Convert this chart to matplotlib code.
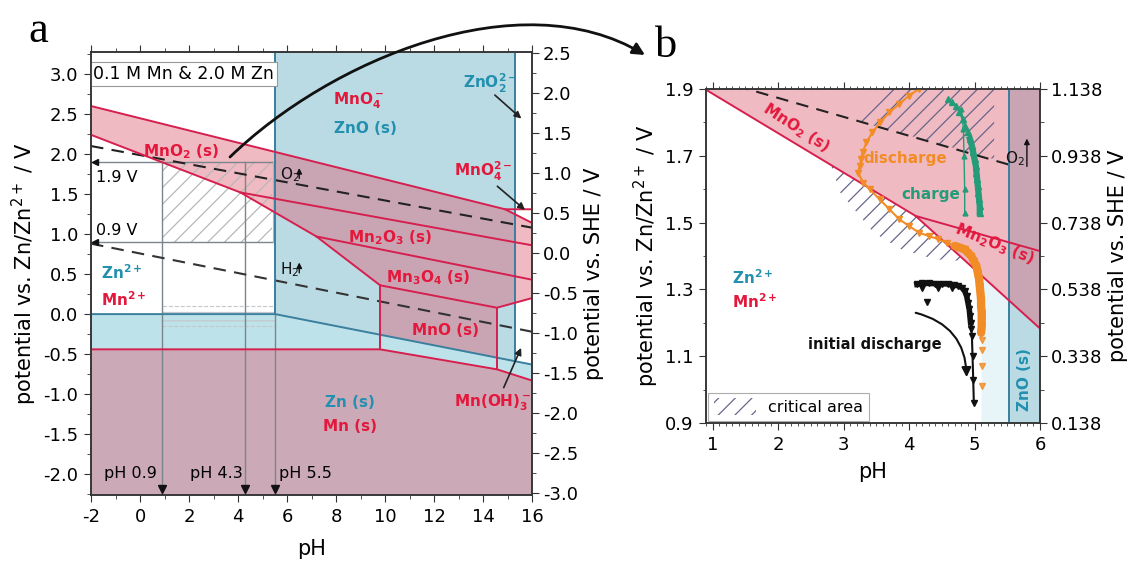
import numpy as np
import matplotlib
matplotlib.use("Agg")
import matplotlib.pyplot as plt
from matplotlib.patches import Polygon, Rectangle, FancyArrowPatch, Patch
from matplotlib.path import Path
from matplotlib.ticker import MultipleLocator, FixedLocator, FormatStrFormatter

plt.rcParams['font.family'] = ['DejaVu Sans']
plt.rcParams['mathtext.default'] = 'regular'
plt.rcParams['axes.unicode_minus'] = False
plt.rcParams['hatch.linewidth'] = 0.9

# ------------------------------------------------------------------ data
SHE_OFFSET = 0.762          # E(SHE) = E(Zn/Zn2+) - offset
PH_ZNO = 5.52               # Zn2+ / ZnO(s)
PH_ZNO2 = 15.3              # ZnO(s) / ZnO2^2-

o2_ph = [-2, 16];            o2_e = [2.10, 1.08]
h2_ph = [-2, 16];            h2_e = [0.88, -0.22]
zn_ph = [-2, 5.52, 16];      zn_e = [0.0, 0.0, -0.63]
mn_ph = [-2, 9.8, 14.57, 16]; mn_e = [-0.44, -0.44, -0.69, -0.83]
mno4_ph = [-2, 14.9, 16];    mno4_e = [2.60, 1.31, 1.31]
mno42_ph = [14.9, 16];       mno42_e = [1.31, 1.14]
mn2_ph = [-2, 4.1, 7.2, 9.8]; mn2_e = [2.24, 1.52, 0.97, 0.36]
mno2_mn2o3_ph = [4.1, 16];   mno2_mn2o3_e = [1.52, 0.86]
mn2o3_mn3o4_ph = [7.2, 16];  mn2o3_mn3o4_e = [0.97, 0.43]
mno_top_ph = [9.8, 14.57, 16]; mno_top_e = [0.36, 0.08, 0.20]

# critical areas (panel b)
hatch_up_ph = [3.55, 5.3, 5.3, 3.1]
hatch_up_e = [1.90, 1.90, 1.69, 1.81]
hatch_lo_ph = [2.8, 4.1, 4.85, 4.85, 4.4, 3.88, 3.46, 2.95]
hatch_lo_e = [1.676, 1.52, 1.387, 1.385, 1.39, 1.42, 1.47, 1.59]

# measured operando data (panel b)
init_ph = [4.12, 4.2, 4.3, 4.4, 4.5, 4.6, 4.68, 4.75, 4.81, 4.85, 4.88, 4.9,
           4.92, 4.93, 4.94, 4.95, 4.96, 4.97, 4.98, 4.99]
init_e = [1.315, 1.318, 1.318, 1.317, 1.317, 1.316, 1.314, 1.311, 1.305, 1.295,
          1.28, 1.26, 1.24, 1.22, 1.20, 1.18, 1.16, 1.10, 1.03, 0.96]
init_extra_ph = [4.28, 4.2, 4.45, 4.65]
init_extra_e = [1.262, 1.305, 1.305, 1.303]

dis_ph = [4.15, 4.0, 3.85, 3.7, 3.56, 3.44, 3.35, 3.29, 3.27, 3.25, 3.22, 3.3,
          3.4, 3.55, 3.7, 3.85, 4.0, 4.15, 4.3, 4.45, 4.58, 4.7, 4.78, 4.85,
          4.9, 4.95, 4.99, 5.03, 5.05, 5.07, 5.08, 5.09, 5.10, 5.10, 5.11, 5.11,
          5.11, 5.10]
dis_e = [1.90, 1.88, 1.855, 1.83, 1.80, 1.77, 1.74, 1.71, 1.69, 1.67, 1.65, 1.62,
         1.60, 1.57, 1.54, 1.51, 1.49, 1.47, 1.46, 1.45, 1.44, 1.43, 1.425, 1.42,
         1.41, 1.40, 1.385, 1.37, 1.35, 1.33, 1.31, 1.29, 1.27, 1.25, 1.23, 1.21,
         1.19, 1.17]
dis_tail_ph = [5.12, 5.12, 5.12, 5.12]
dis_tail_e = [1.15, 1.12, 1.07, 1.01]

chg_ph = [5.08, 5.08, 5.07, 5.06, 5.05, 5.04, 5.03, 5.02, 5.0, 4.98, 4.96, 4.93,
          4.9, 4.86, 4.82, 4.77, 4.72, 4.66, 4.6]
chg_e = [1.53, 1.55, 1.57, 1.59, 1.61, 1.63, 1.65, 1.67, 1.69, 1.71, 1.73, 1.75,
         1.77, 1.79, 1.81, 1.83, 1.85, 1.86, 1.87]
chg2_ph = [4.85, 4.85, 4.84, 4.83, 4.80]
chg2_e = [1.53, 1.60, 1.70, 1.78, 1.84]

# ------------------------------------------------------------------ style
RED_LINE = '#d61f4e'
RED_TXT = '#e3183c'
BLUE_LINE = '#3a7f9e'
BLUE_TXT = '#2390b0'
BLUE_FILL = '#badbe4'
BLUE_FILL2 = '#bee2e9'
PINK = '#de5f73'
PINK_ALPHA = 0.43
ORANGE = '#f28c26'
GREEN = '#259c78'
GRAY = '#7c848c'
TICK_FS = 13
LABEL_FS = 15


def zn(p):
    return np.interp(p, zn_ph, zn_e)


def draw_pourbaix(ax, o2_xmax):
    # Zn solid phases (blue)
    zno = [(PH_ZNO, 5), (PH_ZNO2, 5), (PH_ZNO2, zn(PH_ZNO2)), (PH_ZNO, zn(PH_ZNO))]
    ax.add_patch(Polygon(zno, closed=True, fc=BLUE_FILL, ec='none', zorder=1))
    znsol = list(zip(zn_ph, zn_e)) + [(16, -4), (-2, -4)]
    ax.add_patch(Polygon(znsol, closed=True, fc=BLUE_FILL2, ec='none', zorder=1))
    # Mn oxide phases (pink overlay)
    top = list(zip(mno4_ph[:2], mno4_e[:2])) + [(mno42_ph[1], mno42_e[1])]
    right = list(zip(mno_top_ph[::-1], mno_top_e[::-1]))[:2]
    mid = [(mno_top_ph[1], zn(mno_top_ph[1])), (mno_top_ph[0], zn(mno_top_ph[0]))]
    low = list(zip(mn2_ph[::-1], mn2_e[::-1]))
    ox = top + right + mid + low
    ax.add_patch(Polygon(ox, closed=True, fc=PINK, alpha=PINK_ALPHA, ec='none', zorder=1.5))
    mnsol = list(zip(mn_ph, mn_e)) + [(16, -4), (-2, -4)]
    ax.add_patch(Polygon(mnsol, closed=True, fc=PINK, alpha=PINK_ALPHA, ec='none', zorder=1.5))
    # water lines
    ox_x = np.array([o2_ph[0], o2_xmax])
    ax.plot(ox_x, np.interp(ox_x, o2_ph, o2_e), ls=(0, (6, 4)), color='#222', lw=1.5, zorder=3)
    ax.plot(h2_ph, h2_e, ls=(0, (6, 4)), color='#333', lw=1.5, zorder=3)
    # Zn lines
    ax.plot(zn_ph, zn_e, color=BLUE_LINE, lw=1.4, zorder=3)
    ax.plot([PH_ZNO, PH_ZNO], [zn(PH_ZNO), 5], color=BLUE_LINE, lw=1.4, zorder=3)
    ax.plot([PH_ZNO2, PH_ZNO2], [zn(PH_ZNO2), 5], color=BLUE_LINE, lw=1.4, zorder=3)
    # Mn lines
    kw = dict(color=RED_LINE, lw=1.4, zorder=3.2)
    ax.plot(mno4_ph, mno4_e, **kw)
    ax.plot(mno42_ph, mno42_e, **kw)
    ax.plot(mn2_ph, mn2_e, **kw)
    ax.plot(mno2_mn2o3_ph, mno2_mn2o3_e, **kw)
    ax.plot(mn2o3_mn3o4_ph, mn2o3_mn3o4_e, **kw)
    ax.plot(mno_top_ph, mno_top_e, **kw)
    ax.plot([mno_top_ph[0]] * 2, [mno_top_e[0], mn_e[1]], **kw)
    ax.plot([mno_top_ph[1]] * 2, [mno_top_e[1], mn_e[2]], **kw)
    ax.plot(mn_ph, mn_e, **kw)


fig = plt.figure(figsize=(11.35, 5.65), dpi=100)
W, H = 1135, 565
axa = fig.add_axes([91 / W, 1 - 495 / H, (532 - 91) / W, (495 - 52) / H])
axb = fig.add_axes([706 / W, 1 - 423 / H, (1040 - 706) / W, (423 - 89) / H])

# ================================================================ panel a
ya = (-2.26, 3.275)
axa.set_xlim(-2, 16)
axa.set_ylim(*ya)
draw_pourbaix(axa, 16)

axa.add_patch(Rectangle((0.9, 0.9), 4.5, 1.0, fill=False, hatch='//', ec='#b8b8b8', lw=0, zorder=2))
axa.add_patch(Rectangle((0.9, -0.15), 4.6, 0.25, fill=False, hatch='--', ec='#c4c8cc',
                        lw=0.8, ls='--', zorder=2))
gk = dict(color=GRAY, lw=1.0, zorder=2.5)
axa.plot([-2, 5.52], [1.9, 1.9], **gk)
axa.plot([-2, 5.42], [0.9, 0.9], **gk)
axa.plot([0.9, 0.9], [1.9, -2.26], **gk)
axa.plot([4.3, 4.3], [1.9, -2.26], **gk)
axa.plot([5.42, 5.42], [0.9, 1.9], color='#b0b4b8', lw=0.8, zorder=2.5)
axa.plot([5.52, 5.52], [0.0, -2.26], **gk)
axa.plot([0.9, 4.3, 5.52], [-2.18] * 3, ls='none', marker='v', ms=6, color='#111', zorder=4)
axa.plot([-1.82, -1.82], [1.9, 0.9], ls='none', marker='<', ms=5, color='#111', zorder=4)

axa.text(-1.9, 3.0, '0.1 M Mn & 2.0 M Zn', fontsize=12.5, va='center', ha='left', zorder=6,
         bbox=dict(boxstyle='square,pad=0.15', fc='white', ec='#999', lw=0.8))
axa.text(-0.95, 1.71, '1.9 V', fontsize=11.5, ha='center', va='center', zorder=6)
axa.text(-0.95, 1.05, '0.9 V', fontsize=11.5, ha='center', va='center', zorder=6)
for x, s in [(-0.37, 'pH 0.9'), (3.1, 'pH 4.3'), (6.75, 'pH 5.5')]:
    axa.text(x, -1.99, s, fontsize=11.5, ha='center', va='center', zorder=6)

lbl = dict(fontsize=11, fontweight='bold', ha='center', va='center', zorder=6)
axa.text(1.67, 2.03, 'MnO$_2$ (s)', color=RED_TXT, **lbl)
axa.text(8.9, 2.67, 'MnO$_4^-$', color=RED_TXT, **lbl)
axa.text(9.2, 2.32, 'ZnO (s)', color=BLUE_TXT, **lbl)
axa.text(14.3, 2.88, 'ZnO$_2^{2-}$', color=BLUE_TXT, **lbl)
axa.text(14.0, 1.78, 'MnO$_4^{2-}$', color=RED_TXT, **lbl)
axa.text(10.2, 0.96, 'Mn$_2$O$_3$ (s)', color=RED_TXT, **lbl)
axa.text(11.76, 0.45, 'Mn$_3$O$_4$ (s)', color=RED_TXT, **lbl)
axa.text(12.45, -0.2, 'MnO (s)', color=RED_TXT, **lbl)
axa.text(14.4, -1.11, 'Mn(OH)$_3^-$', color=RED_TXT, **lbl)
axa.text(8.57, -1.10, 'Zn (s)', color=BLUE_TXT, **lbl)
axa.text(8.57, -1.41, 'Mn (s)', color=RED_TXT, **lbl)
axa.text(-1.6, 0.52, 'Zn$^{2+}$', color=BLUE_TXT, fontsize=11, fontweight='bold', ha='left', va='center', zorder=6)
axa.text(-1.6, 0.18, 'Mn$^{2+}$', color=RED_TXT, fontsize=11, fontweight='bold', ha='left', va='center', zorder=6)
axa.text(5.7, 1.74, 'O$_2$', color='#111', fontsize=11, ha='left', va='center', zorder=6)
axa.text(5.7, 0.56, 'H$_2$', color='#111', fontsize=11, ha='left', va='center', zorder=6)
ak = dict(arrowstyle='-|>', color='#111', lw=1.0, mutation_scale=8)
axa.annotate('', xy=(6.5, 1.86), xytext=(6.5, 1.66), arrowprops=ak, zorder=6)
axa.annotate('', xy=(6.5, 0.68), xytext=(6.5, 0.48), arrowprops=ak, zorder=6)
ak2 = dict(arrowstyle='-|>', color='#222', lw=1.2, mutation_scale=10)
axa.annotate('', xy=(15.65, 2.42), xytext=(14.4, 2.76), arrowprops=ak2, zorder=6)
axa.annotate('', xy=(15.8, 1.28), xytext=(14.5, 1.62), arrowprops=ak2, zorder=6)
axa.annotate('', xy=(15.6, -0.39), xytext=(14.8, -0.95), arrowprops=ak2, zorder=6)

axa.xaxis.set_major_locator(MultipleLocator(2))
axa.xaxis.set_minor_locator(MultipleLocator(1))
axa.yaxis.set_major_locator(MultipleLocator(0.5))
axa.yaxis.set_minor_locator(MultipleLocator(0.25))
axa.yaxis.set_major_formatter(FormatStrFormatter('%.1f'))
axa.xaxis.set_ticks_position('both')
axa.tick_params(which='both', direction='out', labelsize=TICK_FS, color='#333')
axa.tick_params(which='major', length=5, pad=4)
axa.tick_params(which='minor', length=3)
axa.set_xlabel('pH', fontsize=LABEL_FS, labelpad=10)
axa.set_ylabel('potential vs. Zn/Zn$^{2+}$ / V', fontsize=LABEL_FS, labelpad=3)
axa2 = axa.twinx()
axa2.set_ylim(ya[0] - SHE_OFFSET, ya[1] - SHE_OFFSET)
axa2.yaxis.set_major_locator(MultipleLocator(0.5))
axa2.yaxis.set_minor_locator(MultipleLocator(0.25))
axa2.yaxis.set_major_formatter(FormatStrFormatter('%.1f'))
axa2.tick_params(which='both', direction='out', labelsize=TICK_FS, color='#333')
axa2.tick_params(which='major', length=5, pad=3)
axa2.tick_params(which='minor', length=3)
axa2.set_ylabel('potential vs. SHE / V', fontsize=LABEL_FS, labelpad=4)

# ================================================================ panel b
yb = (0.9, 1.9)
axb.set_xlim(0.9, 6.0)
axb.set_ylim(*yb)
draw_pourbaix(axb, PH_ZNO)
lo_x = np.array([5.1, PH_ZNO])
axb.fill_between(lo_x, 0.8, np.interp(lo_x, mn2_ph, mn2_e), color='#e8f5f8', lw=0, zorder=1.2)

HATCH_C = '#66668a'
axb.add_patch(Polygon(list(zip(hatch_up_ph, hatch_up_e)), closed=True, fill=False,
                      hatch='//', ec=HATCH_C, lw=0, zorder=2))
axb.add_patch(Polygon(list(zip(hatch_lo_ph, hatch_lo_e)), closed=True, fill=False,
                      hatch='//', ec=HATCH_C, lw=0, zorder=2))

axb.plot(init_ph, init_e, ls='-', color='#111', lw=1.5, marker='v', ms=4.5, zorder=4)
axb.plot(init_ph[:15], init_e[:15], ls='-', color='#111', lw=4, zorder=4)
axb.plot(init_extra_ph, init_extra_e, ls='none', color='#111', marker='v', ms=4.5, zorder=4)
axb.plot(dis_ph, dis_e, ls='-', color=ORANGE, lw=1.5, marker='v', ms=5, zorder=4.2)
axb.plot(dis_ph[21:], dis_e[21:], ls='-', color=ORANGE, lw=6, solid_capstyle='round', zorder=4.2)
axb.plot(dis_tail_ph, dis_tail_e, ls='none', color=ORANGE, marker='v', ms=5, alpha=0.8, zorder=4.2)
axb.plot(chg_ph, chg_e, ls='-', color=GREEN, lw=1.5, marker='^', ms=5, zorder=4.1)
axb.plot(chg_ph[:12], chg_e[:12], ls='-', color=GREEN, lw=4.5, zorder=4.1)
axb.plot(chg2_ph, chg2_e, ls='-', color=GREEN, lw=1.0, marker='^', ms=3.5, zorder=4.1)

axb.text(2.28, 1.785, 'MnO$_2$ (s)', color=RED_TXT, fontsize=11, fontweight='bold', rotation=-33,
         ha='center', va='center', zorder=6)
axb.text(5.31, 1.436, 'Mn$_2$O$_3$ (s)', color=RED_TXT, fontsize=11, fontweight='bold', rotation=-22,
         ha='center', va='center', zorder=6)
axb.text(3.95, 1.693, 'discharge', color=ORANGE, fontsize=11, fontweight='bold', ha='center', va='center', zorder=6)
axb.text(4.34, 1.583, 'charge', color=GREEN, fontsize=11, fontweight='bold', ha='center', va='center', zorder=6)
axb.text(1.3, 1.335, 'Zn$^{2+}$', color=BLUE_TXT, fontsize=11, fontweight='bold', ha='left', va='center', zorder=6)
axb.text(1.3, 1.262, 'Mn$^{2+}$', color=RED_TXT, fontsize=11, fontweight='bold', ha='left', va='center', zorder=6)
axb.text(3.48, 1.134, 'initial discharge', color='#111', fontsize=10.5, fontweight='bold', ha='center',
         va='center', zorder=6)
axb.text(5.77, 1.03, 'ZnO (s)', color=BLUE_TXT, fontsize=11, fontweight='bold', rotation=90,
         ha='center', va='center', zorder=6)
axb.text(5.62, 1.69, 'O$_2$', color='#111', fontsize=11, ha='center', va='center', zorder=6)
axb.annotate('', xy=(5.8, 1.76), xytext=(5.8, 1.66), arrowprops=ak, zorder=6)
axb.annotate('', xy=(4.88, 1.029), xytext=(4.06, 1.232),
             arrowprops=dict(arrowstyle='-|>', color='#111', lw=1.5, mutation_scale=14,
                             connectionstyle='arc3,rad=-0.4'), zorder=6)

leg = axb.legend(handles=[Patch(facecolor='white', edgecolor=HATCH_C, hatch='//', lw=0,
                                label='critical area')],
                 loc='lower left', fontsize=11.5, frameon=True, fancybox=False, edgecolor='#999',
                 borderaxespad=0.15, handlelength=2.6, handleheight=1.2, borderpad=0.35)
leg.get_frame().set_linewidth(0.8)
leg.set_zorder(7)

axb.xaxis.set_major_locator(MultipleLocator(1))
axb.xaxis.set_minor_locator(MultipleLocator(0.1))
axb.yaxis.set_major_locator(FixedLocator(np.arange(0.9, 1.91, 0.2)))
axb.yaxis.set_minor_locator(MultipleLocator(0.1))
axb.yaxis.set_major_formatter(FormatStrFormatter('%.1f'))
axb.xaxis.set_ticks_position('both')
axb.tick_params(which='both', direction='out', labelsize=TICK_FS, color='#333')
axb.tick_params(which='major', length=5, pad=4)
axb.tick_params(which='minor', length=2.5)
axb.set_xlabel('pH', fontsize=LABEL_FS, labelpad=6)
axb.set_ylabel('potential vs. Zn/Zn$^{2+}$ / V', fontsize=LABEL_FS, labelpad=3)
axb2 = axb.twinx()
axb2.set_ylim(yb[0] - SHE_OFFSET, yb[1] - SHE_OFFSET)
axb2.yaxis.set_major_locator(FixedLocator(np.arange(0.138, 1.139, 0.2)))
axb2.yaxis.set_minor_locator(FixedLocator(np.arange(0.238, 1.1, 0.2)))
axb2.yaxis.set_major_formatter(FormatStrFormatter('%.3f'))
axb2.tick_params(which='both', direction='out', labelsize=TICK_FS, color='#333')
axb2.tick_params(which='major', length=5, pad=3)
axb2.tick_params(which='minor', length=3)
axb2.set_ylabel('potential vs. SHE / V', fontsize=LABEL_FS, labelpad=4)

for ax in (axa, axa2, axb, axb2):
    for s in ax.spines.values():
        s.set_color('#333')
        s.set_linewidth(1.1)

# panel letters
fig.text(28 / W, 1 - 42 / H, 'a', fontsize=32, family=['Liberation Serif', 'DejaVu Serif'])
fig.text(655 / W, 1 - 57 / H, 'b', fontsize=32, family=['Liberation Serif', 'DejaVu Serif'])

# curved connector arrow from panel a to panel b (figure pixels)
pts = [(230, 157), (330, 60), (520, -20), (645, 55)]
verts = [(x / W, 1 - y / H) for x, y in pts]
arr = FancyArrowPatch(path=Path(verts, [Path.MOVETO, Path.CURVE4, Path.CURVE4, Path.CURVE4]),
                      arrowstyle='-|>', mutation_scale=18, lw=2.0, color='#111',
                      transform=fig.transFigure, zorder=10)
fig.add_artist(arr)

fig.savefig('out.png', dpi=100)
